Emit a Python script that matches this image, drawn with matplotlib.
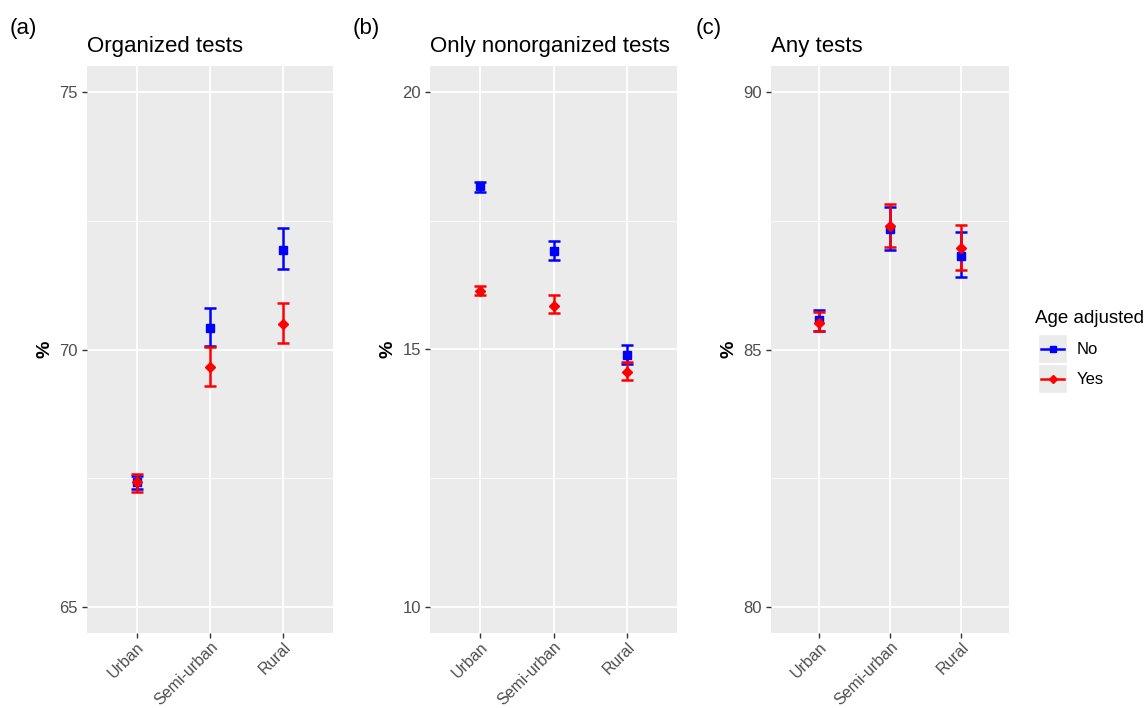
import matplotlib.pyplot as plt
from matplotlib.lines import Line2D
from matplotlib.patches import Rectangle
import numpy as np

# ----- Data -------------------------------------------------------------------------------------------------------- #

CATEGORIES = ['Urban', 'Semi-urban', 'Rural']
TITLES = ['Organized tests', 'Only nonorganized tests', 'Any tests']
PANEL_LABELS = ['(a)', '(b)', '(c)']
Y_TICKS = [[65, 70, 75], [10, 15, 20], [80, 85, 90]]

# Not age adjusted (No)
ORG_NO = [67.42, 70.42, 71.94]
ORG_NO_LO = [67.30, 70.06, 71.56]
ORG_NO_HI = [67.55, 70.80, 72.36]
NONORG_NO = [18.17, 16.92, 14.89]
NONORG_NO_LO = [18.06, 16.74, 14.72]
NONORG_NO_HI = [18.24, 17.11, 15.08]
ANY_NO = [85.57, 87.33, 86.82]
ANY_NO_LO = [85.35, 86.94, 86.41]
ANY_NO_HI = [85.76, 87.76, 87.28]

# Age adjusted (Yes)
ORG_YES = [67.42, 69.66, 70.50]
ORG_YES_LO = [67.23, 69.30, 70.12]
ORG_YES_HI = [67.59, 70.04, 70.90]
NONORG_YES = [16.14, 15.85, 14.56]
NONORG_YES_LO = [16.05, 15.70, 14.41]
NONORG_YES_HI = [16.23, 16.05, 14.75]
ANY_YES = [85.52, 87.40, 86.97]
ANY_YES_LO = [85.36, 86.99, 86.54]
ANY_YES_HI = [85.72, 87.82, 87.42]

# ----- Layout constants -------------------------------------------------------------------------------------------- #

FIG_W_PX, FIG_H_PX, DPI = 1148, 708, 100
PANEL_X = [(87, 333), (430, 677), (771, 1009)]
PANEL_Y = (66, 633)
LABEL_X = [10, 353, 696]
FONT = 'Liberation Sans'
PANEL_BG = '#EBEBEB'
TICK_COL = '#4D4D4D'


def px_rect(x0, x1, y0, y1):
    return [x0 / FIG_W_PX, 1 - y1 / FIG_H_PX, (x1 - x0) / FIG_W_PX, (y1 - y0) / FIG_H_PX]


def draw_series(ax, x, y, lo, hi, color, marker, size):
    y = np.array(y)
    err = [y - np.array(lo), np.array(hi) - y]
    ax.errorbar(x, y, yerr=err, fmt='none', ecolor=color, elinewidth=1.8,
                capsize=4.5, capthick=1.8, zorder=3)
    ax.plot(x, y, linestyle='none', marker=marker, color=color, markersize=size, zorder=4)


plt.rcParams['font.family'] = [FONT, 'DejaVu Sans']
fig = plt.figure(figsize=(FIG_W_PX / DPI, FIG_H_PX / DPI), dpi=DPI)

panels = [
    (ORG_NO, ORG_NO_LO, ORG_NO_HI, ORG_YES, ORG_YES_LO, ORG_YES_HI),
    (NONORG_NO, NONORG_NO_LO, NONORG_NO_HI, NONORG_YES, NONORG_YES_LO, NONORG_YES_HI),
    (ANY_NO, ANY_NO_LO, ANY_NO_HI, ANY_YES, ANY_YES_LO, ANY_YES_HI)]

x = np.arange(1, len(CATEGORIES) + 1)

for i, (no, no_lo, no_hi, yes, yes_lo, yes_hi) in enumerate(panels):
    ax = fig.add_axes(px_rect(*PANEL_X[i], *PANEL_Y))
    ax.set_facecolor(PANEL_BG)
    for spine in ax.spines.values():
        spine.set_visible(False)

    draw_series(ax, x, no, no_lo, no_hi, 'blue', 's', 6)
    draw_series(ax, x, yes, yes_lo, yes_hi, 'red', 'D', 5)

    ticks = Y_TICKS[i]
    ax.set_ylim(ticks[0] - 0.5, ticks[-1] + 0.5)
    ax.set_xlim(0.325, 3.675)
    ax.set_yticks(ticks)
    ax.set_yticks([(ticks[0] + ticks[1]) / 2, (ticks[1] + ticks[2]) / 2], minor=True)
    ax.set_xticks(x)
    ax.set_xticklabels(CATEGORIES, rotation=45, ha='right', rotation_mode='anchor')
    ax.grid(which='major', color='white', linewidth=1.3, zorder=0)
    ax.grid(which='minor', axis='y', color='white', linewidth=0.6, zorder=0)
    ax.set_axisbelow(True)
    ax.tick_params(axis='both', which='major', length=3.5, width=1, color='#333333',
                   labelcolor=TICK_COL, labelsize=12, pad=3)
    ax.tick_params(axis='x', which='major', labelsize=11.5, pad=1)
    ax.tick_params(axis='both', which='minor', length=0)
    ax.set_ylabel('%', fontsize=14, fontweight='bold', labelpad=4)
    ax.set_title(TITLES[i], loc='left', fontsize=16, pad=10)

    fig.text(LABEL_X[i] / FIG_W_PX, 1 - 34 / FIG_H_PX, PANEL_LABELS[i], fontsize=16,
             ha='left', va='baseline')

# ----- Legend ------------------------------------------------------------------------------------------------------ #

fig.text(1035 / FIG_W_PX, 1 - 323 / FIG_H_PX, 'Age adjusted', fontsize=13.5, ha='left', va='baseline')
legend_items = [('No', 'blue', 's', 5), ('Yes', 'red', 'D', 4.5)]
for j, (label, color, marker, msize) in enumerate(legend_items):
    top = 334 + 30 * j
    fig.add_artist(Rectangle((1038 / FIG_W_PX, 1 - (top + 29) / FIG_H_PX), 29 / FIG_W_PX, 29 / FIG_H_PX,
                             transform=fig.transFigure, facecolor=PANEL_BG, edgecolor='white', linewidth=1))
    yc = 1 - (top + 15) / FIG_H_PX
    fig.add_artist(Line2D([1041 / FIG_W_PX, 1064 / FIG_W_PX], [yc, yc], color=color, linewidth=1.8,
                          transform=fig.transFigure))
    fig.add_artist(Line2D([1052.5 / FIG_W_PX], [yc], color=color, marker=marker, markersize=msize,
                          transform=fig.transFigure))
    fig.text(1077 / FIG_W_PX, yc, label, fontsize=12, ha='left', va='center')

fig.savefig('out.png', dpi=DPI)
